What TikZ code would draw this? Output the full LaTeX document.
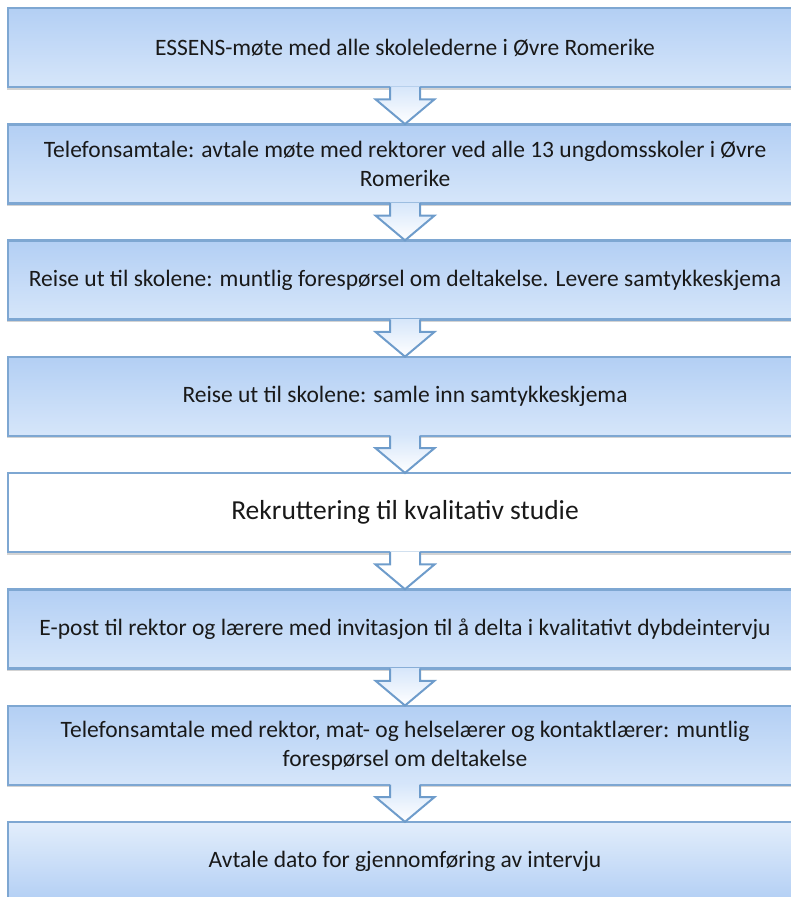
\documentclass[tikz,border=0pt]{standalone}
\usepackage{fontspec}
\setmainfont{Carlito}
\usetikzlibrary{shadows}
\definecolor{boxline}{HTML}{7EA7D2}
\definecolor{boxtop}{HTML}{B3CFF4}
\definecolor{boxbot}{HTML}{D6E6FA}
\definecolor{arrline}{HTML}{6E9CCB}

\begin{document}
\begin{tikzpicture}[x=1pt,y=-1pt,
  stepbox/.style={draw=boxline,line width=2.5pt,minimum width=794pt,minimum height=79pt,
    top color=boxtop,bottom color=boxbot,align=center,text=black!90,
    font=\fontsize{23.5}{29}\selectfont,
    drop shadow={shadow xshift=-1.5pt,shadow yshift=-2.5pt,opacity=.35}},
  whitebox/.style={stepbox,top color=white,bottom color=white,font=\fontsize{27.5}{33}\selectfont},
  lastbox/.style={stepbox,top color=boxbot!70!white,bottom color=boxtop},
  arrblue/.style={top color=boxbot,bottom color=white},
  arrwhite/.style={fill=white},
  arredge/.style={draw=arrline,line width=2pt,line join=miter}]
  \useasboundingbox (0,0) rectangle (791,897);

  % the eight steps
  \node[stepbox] (s1) at (405,47.5) {ESSENS-møte med alle skolelederne i Øvre Romerike};
  \node[stepbox] (s2) at (405,163.8) {Telefonsamtale: avtale møte med rektorer ved alle 13 ungdomsskoler i Øvre\\Romerike};
  \node[stepbox] (s3) at (405,280.1) {Reise ut til skolene: muntlig forespørsel om deltakelse. Levere samtykkeskjema};
  \node[stepbox] (s4) at (405,396.4) {Reise ut til skolene: samle inn samtykkeskjema};
  \node[whitebox] (s5) at (405,512.7) {Rekruttering til kvalitativ studie};
  \node[stepbox] (s6) at (405,629) {E-post til rektor og lærere med invitasjon til å delta i kvalitativt dybdeintervju};
  \node[stepbox] (s7) at (405,745.3) {Telefonsamtale med rektor, mat- og helselærer og kontaktlærer: muntlig\\forespørsel om deltakelse};
  \node[lastbox] (s8) at (405,861.6) {Avtale dato for gjennomføring av intervju};

  % block arrows between the steps
  \foreach \i/\look [evaluate={\j=int(\i+1);}] in {1/arrblue,2/arrblue,3/arrblue,4/arrblue,5/arrwhite,6/arrblue,7/arrblue}{
    \path[\look] ([xshift=-15pt,yshift=2pt]s\i.south) -- ([xshift=-15pt,yshift=-11pt]s\i.south)
      -- ([xshift=-29.5pt,yshift=-11pt]s\i.south) -- ([yshift=-1pt]s\j.north)
      -- ([xshift=29.5pt,yshift=-11pt]s\i.south) -- ([xshift=15pt,yshift=-11pt]s\i.south)
      -- ([xshift=15pt,yshift=2pt]s\i.south) -- cycle;
    \draw[arredge] ([xshift=-15pt,yshift=1.5pt]s\i.south) -- ([xshift=-15pt,yshift=-11pt]s\i.south)
      -- ([xshift=-29.5pt,yshift=-11pt]s\i.south) -- ([yshift=-1pt]s\j.north)
      -- ([xshift=29.5pt,yshift=-11pt]s\i.south) -- ([xshift=15pt,yshift=-11pt]s\i.south)
      -- ([xshift=15pt,yshift=1.5pt]s\i.south);
  }
\end{tikzpicture}
\end{document}
